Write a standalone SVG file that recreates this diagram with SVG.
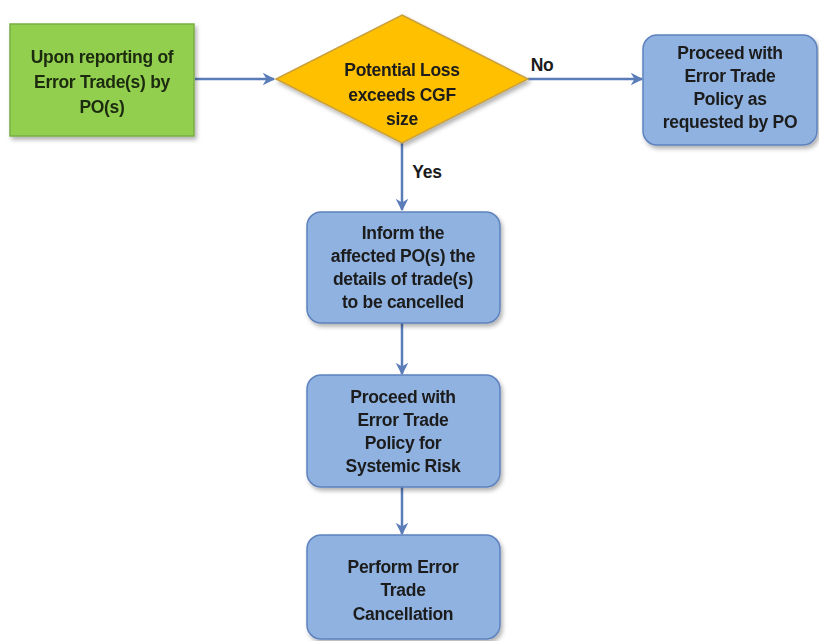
<svg xmlns="http://www.w3.org/2000/svg" width="819" height="641" viewBox="0 0 819 641">
<defs>
<style>
.t{font-family:"Liberation Sans",Arial,sans-serif;font-weight:bold;font-size:17.5px;letter-spacing:-0.3px;fill:#1b1b1b;text-anchor:middle}
.box{fill:#8FB2E0;stroke:#5E82BE;stroke-width:1.5}
.c{stroke:#5A7DBA;stroke-width:2.5;fill:none}
</style>
<marker id="ah" viewBox="0 0 10 10" refX="9" refY="5" markerWidth="5" markerHeight="5" orient="auto" markerUnits="strokeWidth">
<path d="M0,0 L10,5 L0,10 L3,5 Z" fill="#5A7DBA"/>
</marker>
<filter id="sh" x="-10%" y="-10%" width="130%" height="130%">
<feDropShadow dx="2" dy="3" stdDeviation="2" flood-color="#000" flood-opacity="0.3"/>
</filter>
</defs>
<rect width="819" height="641" fill="#ffffff"/>
<g id="connectors">
<line class="c" x1="195" y1="79" x2="274" y2="79" marker-end="url(#ah)"/>
<line class="c" x1="528" y1="79" x2="642" y2="79" marker-end="url(#ah)"/>
<line class="c" x1="402" y1="143" x2="402" y2="210" marker-end="url(#ah)"/>
<line class="c" x1="402" y1="323" x2="402" y2="374" marker-end="url(#ah)"/>
<line class="c" x1="402" y1="487" x2="402" y2="534" marker-end="url(#ah)"/>
<text class="t" x="542" y="71">No</text>
<text class="t" x="427" y="178">Yes</text>
</g>
<g id="start" filter="url(#sh)">
<rect x="10" y="24" width="184" height="112" fill="#92CF50" stroke="#7AAE44" stroke-width="1.5"/>
<text class="t" x="102" y="63" style="fill:#1c2a10">Upon reporting of</text>
<text class="t" x="102" y="88" style="fill:#1c2a10">Error Trade(s) by</text>
<text class="t" x="102" y="113" style="fill:#1c2a10">PO(s)</text>
</g>
<g id="decision" filter="url(#sh)">
<polygon points="402,15 528,79 402,143 276,79" fill="#FFC000" stroke="#C9A040" stroke-width="1.5"/>
<text class="t" x="402" y="76">Potential Loss</text>
<text class="t" x="402" y="101">exceeds CGF</text>
<text class="t" x="402" y="125">size</text>
</g>
<g id="policy-po" filter="url(#sh)">
<rect class="box" x="643" y="35" width="174" height="110" rx="14"/>
<text class="t" x="730" y="59">Proceed with</text>
<text class="t" x="730" y="82">Error Trade</text>
<text class="t" x="730" y="105">Policy as</text>
<text class="t" x="730" y="128">requested by PO</text>
</g>
<g id="inform" filter="url(#sh)">
<rect class="box" x="307" y="212" width="193" height="111" rx="14"/>
<text class="t" x="403" y="239">Inform the</text>
<text class="t" x="403" y="262">affected PO(s) the</text>
<text class="t" x="403" y="285">details of trade(s)</text>
<text class="t" x="403" y="308">to be cancelled</text>
</g>
<g id="policy-systemic" filter="url(#sh)">
<rect class="box" x="307" y="375" width="193" height="112" rx="14"/>
<text class="t" x="403" y="403">Proceed with</text>
<text class="t" x="403" y="426">Error Trade</text>
<text class="t" x="403" y="449">Policy for</text>
<text class="t" x="403" y="472">Systemic Risk</text>
</g>
<g id="cancel" filter="url(#sh)">
<rect class="box" x="307" y="535" width="193" height="104" rx="14"/>
<text class="t" x="403" y="573">Perform Error</text>
<text class="t" x="403" y="596">Trade</text>
<text class="t" x="403" y="620">Cancellation</text>
</g>
</svg>
